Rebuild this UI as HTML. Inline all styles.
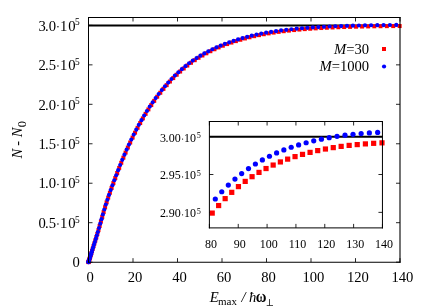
<!DOCTYPE html>
<html><head><meta charset="utf-8"><title>plot</title>
<style>html,body{margin:0;padding:0;background:#fff;}svg{display:block;will-change:transform;}text{font-family:"Liberation Serif",serif;fill:#000;}</style>
</head><body>
<svg width="425" height="306" viewBox="0 0 425 306">
<rect x="0" y="0" width="425" height="306" fill="#fff"/>
<path d="M88.50 262.15v-4.00M88.50 17.50v4.00M133.00 262.15v-4.00M133.00 17.50v4.00M177.50 262.15v-4.00M177.50 17.50v4.00M222.00 262.15v-4.00M222.00 17.50v4.00M266.50 262.15v-4.00M266.50 17.50v4.00M311.00 262.15v-4.00M311.00 17.50v4.00M355.50 262.15v-4.00M355.50 17.50v4.00M400.00 262.15v-4.00M400.00 17.50v4.00M88.50 262.15h4.00M400.00 262.15h-4.00M88.50 222.69h4.00M400.00 222.69h-4.00M88.50 183.23h4.00M400.00 183.23h-4.00M88.50 143.77h4.00M400.00 143.77h-4.00M88.50 104.31h4.00M400.00 104.31h-4.00M88.50 64.85h4.00M400.00 64.85h-4.00M88.50 25.39h4.00M400.00 25.39h-4.00M209.40 227.90v-4.00M209.40 121.50v4.00M238.24 227.90v-4.00M238.24 121.50v4.00M267.08 227.90v-4.00M267.08 121.50v4.00M295.93 227.90v-4.00M295.93 121.50v4.00M324.77 227.90v-4.00M324.77 121.50v4.00M353.61 227.90v-4.00M353.61 121.50v4.00M382.45 227.90v-4.00M382.45 121.50v4.00M209.40 212.36h4.00M382.45 212.36h-4.00M209.40 174.50h4.00M382.45 174.50h-4.00M209.40 136.64h4.00M382.45 136.64h-4.00" stroke="#000" stroke-width="0.85" fill="none"/>
<path d="M88.50 25.39H400.00" stroke="#000" stroke-width="2.00"/>
<path d="M209.40 136.64H382.45" stroke="#000" stroke-width="2.00"/>
<g fill="#ff0000">
<rect x="86.50" y="260.14" width="4.00" height="4.00"/>
<rect x="86.55" y="259.99" width="4.00" height="4.00"/>
<rect x="86.67" y="259.63" width="4.00" height="4.00"/>
<rect x="86.85" y="259.06" width="4.00" height="4.00"/>
<rect x="87.10" y="258.27" width="4.00" height="4.00"/>
<rect x="87.42" y="257.28" width="4.00" height="4.00"/>
<rect x="87.80" y="256.08" width="4.00" height="4.00"/>
<rect x="88.25" y="254.66" width="4.00" height="4.00"/>
<rect x="88.77" y="253.03" width="4.00" height="4.00"/>
<rect x="89.36" y="251.18" width="4.00" height="4.00"/>
<rect x="90.01" y="249.10" width="4.00" height="4.00"/>
<rect x="90.73" y="246.78" width="4.00" height="4.00"/>
<rect x="91.52" y="244.23" width="4.00" height="4.00"/>
<rect x="92.37" y="241.49" width="4.00" height="4.00"/>
<rect x="93.30" y="238.54" width="4.00" height="4.00"/>
<rect x="94.29" y="235.36" width="4.00" height="4.00"/>
<rect x="95.34" y="231.92" width="4.00" height="4.00"/>
<rect x="96.47" y="228.12" width="4.00" height="4.00"/>
<rect x="97.66" y="223.96" width="4.00" height="4.00"/>
<rect x="98.91" y="219.53" width="4.00" height="4.00"/>
<rect x="100.24" y="214.95" width="4.00" height="4.00"/>
<rect x="101.63" y="210.12" width="4.00" height="4.00"/>
<rect x="103.09" y="205.16" width="4.00" height="4.00"/>
<rect x="104.62" y="200.33" width="4.00" height="4.00"/>
<rect x="106.21" y="195.58" width="4.00" height="4.00"/>
<rect x="107.88" y="190.78" width="4.00" height="4.00"/>
<rect x="109.60" y="185.94" width="4.00" height="4.00"/>
<rect x="111.40" y="181.03" width="4.00" height="4.00"/>
<rect x="113.26" y="176.05" width="4.00" height="4.00"/>
<rect x="115.19" y="171.00" width="4.00" height="4.00"/>
<rect x="117.19" y="165.91" width="4.00" height="4.00"/>
<rect x="119.26" y="160.79" width="4.00" height="4.00"/>
<rect x="121.39" y="155.67" width="4.00" height="4.00"/>
<rect x="123.59" y="150.57" width="4.00" height="4.00"/>
<rect x="125.85" y="145.52" width="4.00" height="4.00"/>
<rect x="128.19" y="140.52" width="4.00" height="4.00"/>
<rect x="130.59" y="135.56" width="4.00" height="4.00"/>
<rect x="133.06" y="130.65" width="4.00" height="4.00"/>
<rect x="135.59" y="125.81" width="4.00" height="4.00"/>
<rect x="138.20" y="121.05" width="4.00" height="4.00"/>
<rect x="140.86" y="116.39" width="4.00" height="4.00"/>
<rect x="143.60" y="111.84" width="4.00" height="4.00"/>
<rect x="146.41" y="107.40" width="4.00" height="4.00"/>
<rect x="149.28" y="103.07" width="4.00" height="4.00"/>
<rect x="152.22" y="98.85" width="4.00" height="4.00"/>
<rect x="155.22" y="94.74" width="4.00" height="4.00"/>
<rect x="158.29" y="90.75" width="4.00" height="4.00"/>
<rect x="161.44" y="86.88" width="4.00" height="4.00"/>
<rect x="164.64" y="83.15" width="4.00" height="4.00"/>
<rect x="167.92" y="79.55" width="4.00" height="4.00"/>
<rect x="171.26" y="76.08" width="4.00" height="4.00"/>
<rect x="174.67" y="72.75" width="4.00" height="4.00"/>
<rect x="178.14" y="69.55" width="4.00" height="4.00"/>
<rect x="181.69" y="66.48" width="4.00" height="4.00"/>
<rect x="185.30" y="63.56" width="4.00" height="4.00"/>
<rect x="188.98" y="60.78" width="4.00" height="4.00"/>
<rect x="192.72" y="58.18" width="4.00" height="4.00"/>
<rect x="196.53" y="55.77" width="4.00" height="4.00"/>
<rect x="200.41" y="53.49" width="4.00" height="4.00"/>
<rect x="204.36" y="51.30" width="4.00" height="4.00"/>
<rect x="208.38" y="49.22" width="4.00" height="4.00"/>
<rect x="212.46" y="47.26" width="4.00" height="4.00"/>
<rect x="216.60" y="45.41" width="4.00" height="4.00"/>
<rect x="220.82" y="43.69" width="4.00" height="4.00"/>
<rect x="225.10" y="42.08" width="4.00" height="4.00"/>
<rect x="229.45" y="40.56" width="4.00" height="4.00"/>
<rect x="233.87" y="39.12" width="4.00" height="4.00"/>
<rect x="238.36" y="37.74" width="4.00" height="4.00"/>
<rect x="242.91" y="36.46" width="4.00" height="4.00"/>
<rect x="247.53" y="35.27" width="4.00" height="4.00"/>
<rect x="252.21" y="34.17" width="4.00" height="4.00"/>
<rect x="256.97" y="33.15" width="4.00" height="4.00"/>
<rect x="261.79" y="32.22" width="4.00" height="4.00"/>
<rect x="266.67" y="31.36" width="4.00" height="4.00"/>
<rect x="271.63" y="30.57" width="4.00" height="4.00"/>
<rect x="276.65" y="29.85" width="4.00" height="4.00"/>
<rect x="281.74" y="29.20" width="4.00" height="4.00"/>
<rect x="286.90" y="28.60" width="4.00" height="4.00"/>
<rect x="292.12" y="28.06" width="4.00" height="4.00"/>
<rect x="297.41" y="27.56" width="4.00" height="4.00"/>
<rect x="302.77" y="27.12" width="4.00" height="4.00"/>
<rect x="308.20" y="26.72" width="4.00" height="4.00"/>
<rect x="313.69" y="26.35" width="4.00" height="4.00"/>
<rect x="319.25" y="26.03" width="4.00" height="4.00"/>
<rect x="324.88" y="25.74" width="4.00" height="4.00"/>
<rect x="330.57" y="25.47" width="4.00" height="4.00"/>
<rect x="336.33" y="25.24" width="4.00" height="4.00"/>
<rect x="342.16" y="25.03" width="4.00" height="4.00"/>
<rect x="348.06" y="24.85" width="4.00" height="4.00"/>
<rect x="354.02" y="24.68" width="4.00" height="4.00"/>
<rect x="360.05" y="24.54" width="4.00" height="4.00"/>
<rect x="366.15" y="24.41" width="4.00" height="4.00"/>
<rect x="372.31" y="24.30" width="4.00" height="4.00"/>
<rect x="378.55" y="24.22" width="4.00" height="4.00"/>
<rect x="384.85" y="24.15" width="4.00" height="4.00"/>
<rect x="391.21" y="24.09" width="4.00" height="4.00"/>
<rect x="397.65" y="24.04" width="4.00" height="4.00"/>
</g>
<g fill="#0000ff">
<circle cx="88.50" cy="262.14" r="2.10"/>
<circle cx="88.52" cy="262.10" r="2.10"/>
<circle cx="88.60" cy="261.84" r="2.10"/>
<circle cx="88.74" cy="261.38" r="2.10"/>
<circle cx="88.96" cy="260.70" r="2.10"/>
<circle cx="89.24" cy="259.81" r="2.10"/>
<circle cx="89.59" cy="258.71" r="2.10"/>
<circle cx="90.01" cy="257.40" r="2.10"/>
<circle cx="90.49" cy="255.88" r="2.10"/>
<circle cx="91.04" cy="254.13" r="2.10"/>
<circle cx="91.66" cy="252.16" r="2.10"/>
<circle cx="92.35" cy="249.96" r="2.10"/>
<circle cx="93.10" cy="247.51" r="2.10"/>
<circle cx="93.92" cy="244.86" r="2.10"/>
<circle cx="94.81" cy="242.01" r="2.10"/>
<circle cx="95.76" cy="238.94" r="2.10"/>
<circle cx="96.78" cy="235.62" r="2.10"/>
<circle cx="97.87" cy="232.01" r="2.10"/>
<circle cx="99.03" cy="228.01" r="2.10"/>
<circle cx="100.25" cy="223.68" r="2.10"/>
<circle cx="101.54" cy="219.14" r="2.10"/>
<circle cx="102.90" cy="214.44" r="2.10"/>
<circle cx="104.33" cy="209.49" r="2.10"/>
<circle cx="105.82" cy="204.54" r="2.10"/>
<circle cx="107.38" cy="199.76" r="2.10"/>
<circle cx="109.00" cy="194.97" r="2.10"/>
<circle cx="110.70" cy="190.12" r="2.10"/>
<circle cx="112.46" cy="185.23" r="2.10"/>
<circle cx="114.29" cy="180.26" r="2.10"/>
<circle cx="116.18" cy="175.23" r="2.10"/>
<circle cx="118.14" cy="170.13" r="2.10"/>
<circle cx="120.17" cy="165.00" r="2.10"/>
<circle cx="122.27" cy="159.85" r="2.10"/>
<circle cx="124.44" cy="154.72" r="2.10"/>
<circle cx="126.67" cy="149.61" r="2.10"/>
<circle cx="128.97" cy="144.56" r="2.10"/>
<circle cx="131.33" cy="139.56" r="2.10"/>
<circle cx="133.77" cy="134.60" r="2.10"/>
<circle cx="136.27" cy="129.70" r="2.10"/>
<circle cx="138.83" cy="124.87" r="2.10"/>
<circle cx="141.47" cy="120.14" r="2.10"/>
<circle cx="144.17" cy="115.51" r="2.10"/>
<circle cx="146.94" cy="110.99" r="2.10"/>
<circle cx="149.78" cy="106.58" r="2.10"/>
<circle cx="152.68" cy="102.28" r="2.10"/>
<circle cx="155.65" cy="98.09" r="2.10"/>
<circle cx="158.69" cy="94.02" r="2.10"/>
<circle cx="161.79" cy="90.07" r="2.10"/>
<circle cx="164.97" cy="86.25" r="2.10"/>
<circle cx="168.21" cy="82.56" r="2.10"/>
<circle cx="171.51" cy="79.00" r="2.10"/>
<circle cx="174.89" cy="75.59" r="2.10"/>
<circle cx="178.33" cy="72.30" r="2.10"/>
<circle cx="181.84" cy="69.15" r="2.10"/>
<circle cx="185.41" cy="66.14" r="2.10"/>
<circle cx="189.06" cy="63.27" r="2.10"/>
<circle cx="192.77" cy="60.56" r="2.10"/>
<circle cx="196.54" cy="58.04" r="2.10"/>
<circle cx="200.39" cy="55.70" r="2.10"/>
<circle cx="204.30" cy="53.44" r="2.10"/>
<circle cx="208.28" cy="51.29" r="2.10"/>
<circle cx="212.33" cy="49.26" r="2.10"/>
<circle cx="216.44" cy="47.35" r="2.10"/>
<circle cx="220.62" cy="45.55" r="2.10"/>
<circle cx="224.87" cy="43.87" r="2.10"/>
<circle cx="229.18" cy="42.31" r="2.10"/>
<circle cx="233.57" cy="40.82" r="2.10"/>
<circle cx="238.02" cy="39.40" r="2.10"/>
<circle cx="242.53" cy="38.06" r="2.10"/>
<circle cx="247.12" cy="36.82" r="2.10"/>
<circle cx="251.77" cy="35.66" r="2.10"/>
<circle cx="256.49" cy="34.60" r="2.10"/>
<circle cx="261.27" cy="33.62" r="2.10"/>
<circle cx="266.12" cy="32.72" r="2.10"/>
<circle cx="271.04" cy="31.89" r="2.10"/>
<circle cx="276.03" cy="31.13" r="2.10"/>
<circle cx="281.09" cy="30.44" r="2.10"/>
<circle cx="286.21" cy="29.81" r="2.10"/>
<circle cx="291.40" cy="29.24" r="2.10"/>
<circle cx="296.65" cy="28.72" r="2.10"/>
<circle cx="301.98" cy="28.25" r="2.10"/>
<circle cx="307.37" cy="27.82" r="2.10"/>
<circle cx="312.83" cy="27.43" r="2.10"/>
<circle cx="318.35" cy="27.09" r="2.10"/>
<circle cx="323.94" cy="26.78" r="2.10"/>
<circle cx="329.60" cy="26.50" r="2.10"/>
<circle cx="335.33" cy="26.25" r="2.10"/>
<circle cx="341.12" cy="26.03" r="2.10"/>
<circle cx="346.98" cy="25.83" r="2.10"/>
<circle cx="352.91" cy="25.65" r="2.10"/>
<circle cx="358.91" cy="25.50" r="2.10"/>
<circle cx="364.97" cy="25.36" r="2.10"/>
<circle cx="371.10" cy="25.24" r="2.10"/>
<circle cx="377.30" cy="25.15" r="2.10"/>
<circle cx="383.56" cy="25.07" r="2.10"/>
<circle cx="389.89" cy="25.00" r="2.10"/>
<circle cx="396.29" cy="24.95" r="2.10"/>
</g>
<g>
<g fill="#ff0000">
<rect x="209.62" y="210.49" width="5.20" height="5.20"/>
<rect x="216.04" y="202.95" width="5.20" height="5.20"/>
<rect x="222.55" y="196.04" width="5.20" height="5.20"/>
<rect x="229.15" y="189.75" width="5.20" height="5.20"/>
<rect x="235.83" y="184.01" width="5.20" height="5.20"/>
<rect x="242.61" y="178.80" width="5.20" height="5.20"/>
<rect x="249.46" y="174.08" width="5.20" height="5.20"/>
<rect x="256.41" y="169.80" width="5.20" height="5.20"/>
<rect x="263.44" y="165.94" width="5.20" height="5.20"/>
<rect x="270.56" y="162.46" width="5.20" height="5.20"/>
<rect x="277.77" y="159.34" width="5.20" height="5.20"/>
<rect x="285.06" y="156.53" width="5.20" height="5.20"/>
<rect x="292.45" y="154.02" width="5.20" height="5.20"/>
<rect x="299.91" y="151.78" width="5.20" height="5.20"/>
<rect x="307.47" y="149.78" width="5.20" height="5.20"/>
<rect x="315.11" y="148.00" width="5.20" height="5.20"/>
<rect x="322.84" y="146.42" width="5.20" height="5.20"/>
<rect x="330.66" y="145.02" width="5.20" height="5.20"/>
<rect x="338.56" y="143.79" width="5.20" height="5.20"/>
<rect x="346.55" y="142.80" width="5.20" height="5.20"/>
<rect x="354.63" y="142.00" width="5.20" height="5.20"/>
<rect x="362.80" y="141.30" width="5.20" height="5.20"/>
<rect x="371.05" y="140.72" width="5.20" height="5.20"/>
<rect x="379.39" y="140.25" width="5.20" height="5.20"/>
</g><g fill="#0000ff">
<circle cx="215.29" cy="199.00" r="2.60"/>
<circle cx="221.76" cy="191.74" r="2.60"/>
<circle cx="228.31" cy="185.10" r="2.60"/>
<circle cx="234.95" cy="179.05" r="2.60"/>
<circle cx="241.67" cy="173.55" r="2.60"/>
<circle cx="248.49" cy="168.55" r="2.60"/>
<circle cx="255.39" cy="164.02" r="2.60"/>
<circle cx="262.37" cy="159.93" r="2.60"/>
<circle cx="269.45" cy="156.24" r="2.60"/>
<circle cx="276.61" cy="152.92" r="2.60"/>
<circle cx="283.86" cy="149.94" r="2.60"/>
<circle cx="291.20" cy="147.27" r="2.60"/>
<circle cx="298.62" cy="144.88" r="2.60"/>
<circle cx="306.13" cy="142.74" r="2.60"/>
<circle cx="313.73" cy="140.84" r="2.60"/>
<circle cx="321.41" cy="139.15" r="2.60"/>
<circle cx="329.18" cy="137.66" r="2.60"/>
<circle cx="337.04" cy="136.33" r="2.60"/>
<circle cx="344.99" cy="135.20" r="2.60"/>
<circle cx="353.02" cy="134.31" r="2.60"/>
<circle cx="361.14" cy="133.56" r="2.60"/>
<circle cx="369.35" cy="132.91" r="2.60"/>
<circle cx="377.64" cy="132.39" r="2.60"/>
</g></g>
<g stroke="#000" fill="none" stroke-linecap="square"><path d="M88.50 17.50H400.00" stroke-width="1"/><path d="M88.50 262.20H400.00" stroke-width="1.1"/><path d="M88.50 17.50V262.20" stroke-width="1"/><path d="M400.00 17.50V262.20" stroke-width="1.1"/></g>
<g stroke="#000" fill="none" stroke-linecap="square"><path d="M209.40 121.50H382.45" stroke-width="1"/><path d="M209.40 227.90H382.45" stroke-width="1"/><path d="M209.40 121.50V227.90" stroke-width="1"/><path d="M382.45 121.50V227.90" stroke-width="1"/></g>
<rect x="382" y="47" width="4" height="4" fill="#ff0000"/>
<circle cx="384.05" cy="66.5" r="2.1" fill="#0000ff"/>
<text transform="matrix(1 0 0 1.02 0 -1.078)" x="369.2" y="53.90" font-size="14.65" text-anchor="end"><tspan font-style="italic">M</tspan>=30</text>
<text transform="matrix(1 0 0 1.02 0 -1.426)" x="369.2" y="71.30" font-size="14.65" text-anchor="end"><tspan font-style="italic">M</tspan>=1000</text>
<text transform="matrix(1 0 0 1.02 0 -4.558)" x="38.57 45.09 48.79" y="227.89" font-size="14.65" text-anchor="start">0.5</text><circle cx="57.95" cy="223.94" r="0.75" fill="#000"/><text transform="matrix(1 0 0 1.02 0 -4.558)" x="60.05 68.20" y="227.89" font-size="14.65" text-anchor="start">10</text><text transform="matrix(1 0 0 1.02 0 -4.456)" x="75.10" y="222.79" font-size="9.4" text-anchor="start">5</text>
<text transform="matrix(1 0 0 1.02 0 -3.769)" x="38.57 45.09 48.79" y="188.43" font-size="14.65" text-anchor="start">1.0</text><circle cx="57.95" cy="184.48" r="0.75" fill="#000"/><text transform="matrix(1 0 0 1.02 0 -3.769)" x="60.05 68.20" y="188.43" font-size="14.65" text-anchor="start">10</text><text transform="matrix(1 0 0 1.02 0 -3.667)" x="75.10" y="183.33" font-size="9.4" text-anchor="start">5</text>
<text transform="matrix(1 0 0 1.02 0 -2.979)" x="38.57 45.09 48.79" y="148.97" font-size="14.65" text-anchor="start">1.5</text><circle cx="57.95" cy="145.02" r="0.75" fill="#000"/><text transform="matrix(1 0 0 1.02 0 -2.979)" x="60.05 68.20" y="148.97" font-size="14.65" text-anchor="start">10</text><text transform="matrix(1 0 0 1.02 0 -2.877)" x="75.10" y="143.87" font-size="9.4" text-anchor="start">5</text>
<text transform="matrix(1 0 0 1.02 0 -2.190)" x="38.57 45.09 48.79" y="109.51" font-size="14.65" text-anchor="start">2.0</text><circle cx="57.95" cy="105.56" r="0.75" fill="#000"/><text transform="matrix(1 0 0 1.02 0 -2.190)" x="60.05 68.20" y="109.51" font-size="14.65" text-anchor="start">10</text><text transform="matrix(1 0 0 1.02 0 -2.088)" x="75.10" y="104.41" font-size="9.4" text-anchor="start">5</text>
<text transform="matrix(1 0 0 1.02 0 -1.401)" x="38.57 45.09 48.79" y="70.05" font-size="14.65" text-anchor="start">2.5</text><circle cx="57.95" cy="66.10" r="0.75" fill="#000"/><text transform="matrix(1 0 0 1.02 0 -1.401)" x="60.05 68.20" y="70.05" font-size="14.65" text-anchor="start">10</text><text transform="matrix(1 0 0 1.02 0 -1.299)" x="75.10" y="64.95" font-size="9.4" text-anchor="start">5</text>
<text transform="matrix(1 0 0 1.02 0 -0.612)" x="38.57 45.09 48.79" y="30.59" font-size="14.65" text-anchor="start">3.0</text><circle cx="57.95" cy="26.64" r="0.75" fill="#000"/><text transform="matrix(1 0 0 1.02 0 -0.612)" x="60.05 68.20" y="30.59" font-size="14.65" text-anchor="start">10</text><text transform="matrix(1 0 0 1.02 0 -0.510)" x="75.10" y="25.49" font-size="9.4" text-anchor="start">5</text>
<text transform="matrix(1 0 0 1.02 0 -5.349)" x="79.8" y="267.45" font-size="14.65" text-anchor="end">0</text>
<text transform="matrix(1 0 0 1.02 0 -5.634)" x="90.20" y="281.70" font-size="14.65" text-anchor="middle">0</text>
<text transform="matrix(1 0 0 1.02 0 -5.634)" x="135.00" y="281.70" font-size="14.65" text-anchor="middle">20</text>
<text transform="matrix(1 0 0 1.02 0 -5.634)" x="179.50" y="281.70" font-size="14.65" text-anchor="middle">40</text>
<text transform="matrix(1 0 0 1.02 0 -5.634)" x="224.00" y="281.70" font-size="14.65" text-anchor="middle">60</text>
<text transform="matrix(1 0 0 1.02 0 -5.634)" x="268.50" y="281.70" font-size="14.65" text-anchor="middle">80</text>
<text transform="matrix(1 0 0 1.02 0 -5.634)" x="313.40" y="281.70" font-size="14.65" text-anchor="middle">100</text>
<text transform="matrix(1 0 0 1.02 0 -5.634)" x="357.90" y="281.70" font-size="14.65" text-anchor="middle">120</text>
<text transform="matrix(1 0 0 1.02 0 -5.634)" x="402.40" y="281.70" font-size="14.65" text-anchor="middle">140</text>
<text transform="matrix(1 0 0 1.04 0 -8.692)" x="159.97 165.60 168.70 174.70" y="217.31" font-size="12" text-anchor="start">2.90</text><circle cx="182.57" cy="214.81" r="0.6" fill="#000"/><text transform="matrix(1 0 0 1.04 0 -8.692)" x="183.90 190.06" y="217.31" font-size="12" text-anchor="start">10</text><text transform="matrix(1 0 0 1.02 0 -4.274)" x="196.80" y="213.71" font-size="8.2" text-anchor="start">5</text>
<text transform="matrix(1 0 0 1.04 0 -7.178)" x="159.97 165.60 168.70 174.70" y="179.45" font-size="12" text-anchor="start">2.95</text><circle cx="182.57" cy="176.95" r="0.6" fill="#000"/><text transform="matrix(1 0 0 1.04 0 -7.178)" x="183.90 190.06" y="179.45" font-size="12" text-anchor="start">10</text><text transform="matrix(1 0 0 1.02 0 -3.517)" x="196.80" y="175.85" font-size="8.2" text-anchor="start">5</text>
<text transform="matrix(1 0 0 1.04 0 -5.664)" x="159.97 165.60 168.70 174.70" y="141.59" font-size="12" text-anchor="start">3.00</text><circle cx="182.57" cy="139.09" r="0.6" fill="#000"/><text transform="matrix(1 0 0 1.04 0 -5.664)" x="183.90 190.06" y="141.59" font-size="12" text-anchor="start">10</text><text transform="matrix(1 0 0 1.02 0 -2.760)" x="196.80" y="137.99" font-size="8.2" text-anchor="start">5</text>
<text transform="matrix(1 0 0 1.04 0 -9.912)" x="211.00" y="247.80" font-size="12" text-anchor="middle">80</text>
<text transform="matrix(1 0 0 1.04 0 -9.912)" x="239.84" y="247.80" font-size="12" text-anchor="middle">90</text>
<text transform="matrix(1 0 0 1.04 0 -9.912)" x="268.68" y="247.80" font-size="12" text-anchor="middle">100</text>
<text transform="matrix(1 0 0 1.04 0 -9.912)" x="297.53" y="247.80" font-size="12" text-anchor="middle">110</text>
<text transform="matrix(1 0 0 1.04 0 -9.912)" x="326.37" y="247.80" font-size="12" text-anchor="middle">120</text>
<text transform="matrix(1 0 0 1.04 0 -9.912)" x="355.21" y="247.80" font-size="12" text-anchor="middle">130</text>
<text transform="matrix(1 0 0 1.04 0 -9.912)" x="384.05" y="247.80" font-size="12" text-anchor="middle">140</text>
<text transform="translate(22.2,158.4) rotate(-90)" font-size="14.65"><tspan font-style="italic">N</tspan><tspan dx="3.0">-</tspan><tspan dx="3.4" font-style="italic">N</tspan><tspan font-size="12.5" dy="3.4" dx="0.3">0</tspan></text>
<text transform="matrix(1 0 0 1 0 0.000)" x="209.7" y="301.60" font-size="14.65" text-anchor="start" font-style="italic">E</text>
<text transform="matrix(1 0 0 1 0 0.000)" x="218.0" y="305.30" font-size="11" text-anchor="start">max</text>
<text transform="matrix(1 0 0 1 0 0.000)" x="241.5" y="301.60" font-size="14.65" text-anchor="start" font-style="italic">/</text>
<text transform="matrix(1 0 0 1 0 0.000)" x="249.0" y="301.60" font-size="14.65" text-anchor="start" font-style="italic">ħ</text>
<text transform="matrix(1 0 0 1.12 0 -36.192)" x="255.8" y="301.60" font-size="14.65" text-anchor="start" font-weight="bold">ω</text>
<path d="M269.5 299.1V305.6M266.7 305.6H273.0" stroke="#000" stroke-width="0.75" fill="none"/>
</svg></body></html>
